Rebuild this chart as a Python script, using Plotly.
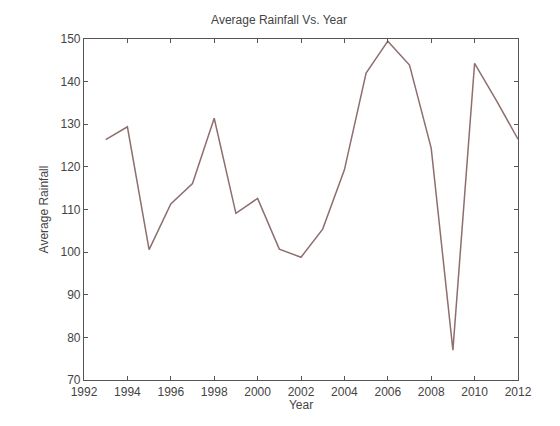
import plotly.graph_objects as go

# data
years = [1993, 1994, 1995, 1996, 1997, 1998, 1999, 2000, 2001, 2002,
         2003, 2004, 2005, 2006, 2007, 2008, 2009, 2010, 2011, 2012]
rainfall = [126.4, 129.4, 100.6, 111.3, 116.1, 131.4, 109.1, 112.6, 100.7, 98.8,
            105.4, 119.3, 142.0, 149.5, 143.9, 124.4, 77.0, 144.3, 135.6, 126.5]
x_ticks = list(range(1992, 2013, 2))
y_ticks = list(range(70, 151, 10))

font = dict(family="Liberation Sans, Arial", size=12, color="#444444")

fig = go.Figure()
fig.add_trace(go.Scatter(
    x=years, y=rainfall, mode="lines",
    line=dict(color="#8e6e6e", width=1.5),
    showlegend=False,
))

axis_style = dict(
    showline=True, linecolor="#555555", linewidth=1.2, mirror="ticks",
    ticks="inside", ticklen=4, tickcolor="#555555",
    showgrid=False, zeroline=False, automargin=False,
    tickfont=font,
)

# the page puts the plot 8px in from the top-left, so margins are offset
fig.update_layout(
    width=560, height=426,
    margin=dict(l=76, r=50, t=31, b=54),
    paper_bgcolor="white", plot_bgcolor="white",
    title=dict(text="Average Rainfall Vs. Year", x=0.484, xanchor="center",
               y=1 - 12 / 426, yanchor="middle",
               font=dict(family="Liberation Sans, Arial", size=12, color="#444444")),
    xaxis=dict(range=[1992, 2012], tickvals=x_ticks,
               title=dict(text="Year", standoff=0, font=font),
               **axis_style),
    yaxis=dict(range=[70, 150], tickvals=y_ticks,
               title=dict(text="Average Rainfall", standoff=9, font=font),
               **axis_style),
)

fig.write_html("out.html")
